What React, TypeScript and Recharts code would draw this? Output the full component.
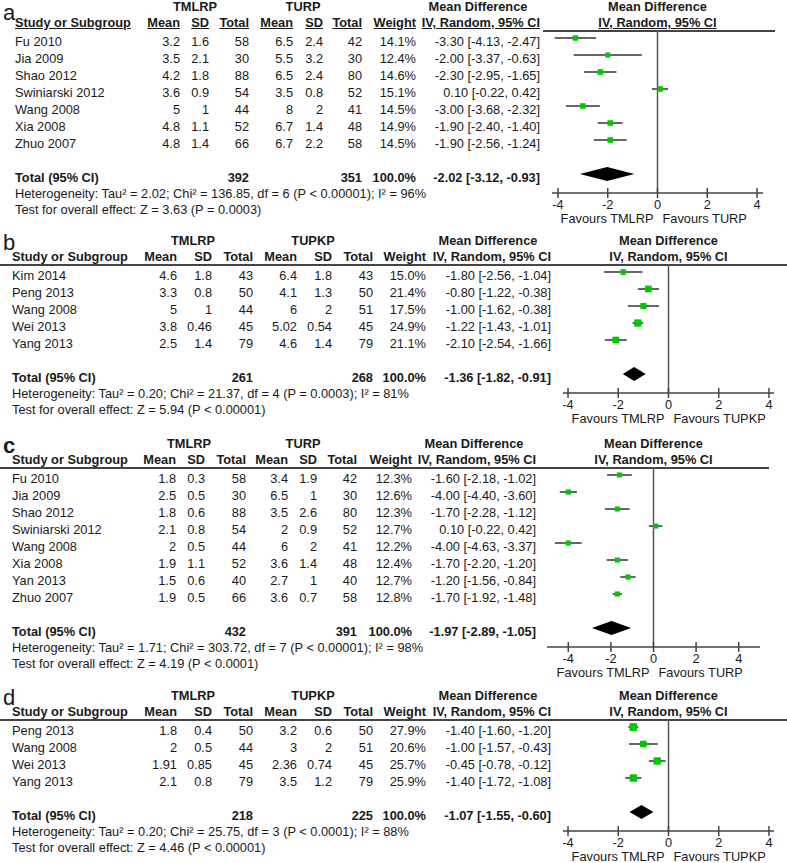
import React from 'react';
import { ScatterChart, Scatter, XAxis, YAxis, ErrorBar, ReferenceLine, ReferenceArea } from 'recharts';

const FONT = '"Liberation Sans", Arial, sans-serif';
const INK = '#1a1a1a';
const GREEN = '#00c800';
const ROW = 17;
const FS = 12.8;

// ---- a: TMLRP vs TURP
const studiesA = ['Fu 2010', 'Jia 2009', 'Shao 2012', 'Swiniarski 2012', 'Wang 2008', 'Xia 2008', 'Zhuo 2007'];
const meanTA = [3.2, 3.5, 4.2, 3.6, 5, 4.8, 4.8];
const sdTA = [1.6, 2.1, 1.8, 0.9, 1, 1.1, 1.4];
const nTA = [58, 30, 88, 54, 44, 52, 66];
const meanCA = [6.5, 5.5, 6.5, 3.5, 8, 6.7, 6.7];
const sdCA = [2.4, 3.2, 2.4, 0.8, 2, 1.4, 2.2];
const nCA = [42, 30, 80, 52, 41, 48, 58];
const weightA = [14.1, 12.4, 14.6, 15.1, 14.5, 14.9, 14.5];
const mdA = [-3.3, -2, -2.3, 0.1, -3, -1.9, -1.9];
const loA = [-4.13, -3.37, -2.95, -0.22, -3.68, -2.4, -2.56];
const hiA = [-2.47, -0.63, -1.65, 0.42, -2.32, -1.4, -1.24];
const totalA = { nT: 392, nC: 351, md: -2.02, lo: -3.12, hi: -0.93 };
const hetA = 'Heterogeneity: Tau\u00b2 = 2.02; Chi\u00b2 = 136.85, df = 6 (P < 0.00001); I\u00b2 = 96%';
const testA = 'Test for overall effect: Z = 3.63 (P = 0.0003)';

// ---- b: TMLRP vs TUPKP
const studiesB = ['Kim 2014', 'Peng 2013', 'Wang 2008', 'Wei 2013', 'Yang 2013'];
const meanTB = [4.6, 3.3, 5, 3.8, 2.5];
const sdTB = [1.8, 0.8, 1, 0.46, 1.4];
const nTB = [43, 50, 44, 45, 79];
const meanCB = [6.4, 4.1, 6, 5.02, 4.6];
const sdCB = [1.8, 1.3, 2, 0.54, 1.4];
const nCB = [43, 50, 51, 45, 79];
const weightB = [15.0, 21.4, 17.5, 24.9, 21.1];
const mdB = [-1.8, -0.8, -1, -1.22, -2.1];
const loB = [-2.56, -1.22, -1.62, -1.43, -2.54];
const hiB = [-1.04, -0.38, -0.38, -1.01, -1.66];
const totalB = { nT: 261, nC: 268, md: -1.36, lo: -1.82, hi: -0.91 };
const hetB = 'Heterogeneity: Tau\u00b2 = 0.20; Chi\u00b2 = 21.37, df = 4 (P = 0.0003); I\u00b2 = 81%';
const testB = 'Test for overall effect: Z = 5.94 (P < 0.00001)';

// ---- c: TMLRP vs TURP
const studiesC = ['Fu 2010', 'Jia 2009', 'Shao 2012', 'Swiniarski 2012', 'Wang 2008', 'Xia 2008', 'Yan 2013', 'Zhuo 2007'];
const meanTC = [1.8, 2.5, 1.8, 2.1, 2, 1.9, 1.5, 1.9];
const sdTC = [0.3, 0.5, 0.6, 0.8, 0.5, 1.1, 0.6, 0.5];
const nTC = [58, 30, 88, 54, 44, 52, 40, 66];
const meanCC = [3.4, 6.5, 3.5, 2, 6, 3.6, 2.7, 3.6];
const sdCC = [1.9, 1, 2.6, 0.9, 2, 1.4, 1, 0.7];
const nCC = [42, 30, 80, 52, 41, 48, 40, 58];
const weightC = [12.3, 12.6, 12.3, 12.7, 12.2, 12.4, 12.7, 12.8];
const mdC = [-1.6, -4, -1.7, 0.1, -4, -1.7, -1.2, -1.7];
const loC = [-2.18, -4.4, -2.28, -0.22, -4.63, -2.2, -1.56, -1.92];
const hiC = [-1.02, -3.6, -1.12, 0.42, -3.37, -1.2, -0.84, -1.48];
const totalC = { nT: 432, nC: 391, md: -1.97, lo: -2.89, hi: -1.05 };
const hetC = 'Heterogeneity: Tau\u00b2 = 1.71; Chi\u00b2 = 303.72, df = 7 (P < 0.00001); I\u00b2 = 98%';
const testC = 'Test for overall effect: Z = 4.19 (P < 0.0001)';

// ---- d: TMLRP vs TUPKP
const studiesD = ['Peng 2013', 'Wang 2008', 'Wei 2013', 'Yang 2013'];
const meanTD = [1.8, 2, 1.91, 2.1];
const sdTD = [0.4, 0.5, 0.85, 0.8];
const nTD = [50, 44, 45, 79];
const meanCD = [3.2, 3, 2.36, 3.5];
const sdCD = [0.6, 2, 0.74, 1.2];
const nCD = [50, 51, 45, 79];
const weightD = [27.9, 20.6, 25.7, 25.9];
const mdD = [-1.4, -1, -0.45, -1.4];
const loD = [-1.6, -1.57, -0.78, -1.72];
const hiD = [-1.2, -0.43, -0.12, -1.08];
const totalD = { nT: 218, nC: 225, md: -1.07, lo: -1.55, hi: -0.6 };
const hetD = 'Heterogeneity: Tau\u00b2 = 0.20; Chi\u00b2 = 25.75, df = 3 (P < 0.0001); I\u00b2 = 88%';
const testD = 'Test for overall effect: Z = 4.46 (P < 0.00001)';

const xTicks = [-4, -2, 0, 2, 4];

const panels = [
  {
    letter: 'a', top: 0, groups: ['TMLRP', 'TURP'],
    studies: studiesA, meanT: meanTA, sdT: sdTA, nT: nTA, meanC: meanCA, sdC: sdCA, nC: nCA,
    weight: weightA, md: mdA, lo: loA, hi: hiA, total: totalA, het: hetA, test: testA,
    // layout
    studyX: 15, cols: [180, 209, 249, 293, 323, 362, 416, 540], grpX: [195, 303], mdHeadX: 478,
    plotLeft: 552, plotWidth: 211, dom: 4.24, lineFrom: 543, lineTo: 775, underline: true,
  },
  {
    letter: 'b', top: 234, groups: ['TMLRP', 'TUPKP'],
    studies: studiesB, meanT: meanTB, sdT: sdTB, nT: nTB, meanC: meanCB, sdC: sdCB, nC: nCB,
    weight: weightB, md: mdB, lo: loB, hi: hiB, total: totalB, het: hetB, test: testB,
    studyX: 12, cols: [177, 212, 253, 297, 332, 373, 426, 551], grpX: [193, 313], mdHeadX: 488,
    plotLeft: 563, plotWidth: 211, dom: 4.2, lineFrom: 0, lineTo: 787, underline: false,
  },
  {
    letter: 'c', top: 437, groups: ['TMLRP', 'TURP'],
    studies: studiesC, meanT: meanTC, sdT: sdTC, nT: nTC, meanC: meanCC, sdC: sdCC, nC: nCC,
    weight: weightC, md: mdC, lo: loC, hi: hiC, total: totalC, het: hetC, test: testC,
    studyX: 12, cols: [176, 205, 246, 288, 317, 357, 412, 536], grpX: [189, 303], mdHeadX: 474,
    plotLeft: 547, plotWidth: 213, dom: 5, lineFrom: 0, lineTo: 769, underline: false,
  },
  {
    letter: 'd', top: 689, groups: ['TMLRP', 'TUPKP'],
    studies: studiesD, meanT: meanTD, sdT: sdTD, nT: nTD, meanC: meanCD, sdC: sdCD, nC: nCD,
    weight: weightD, md: mdD, lo: loD, hi: hiD, total: totalD, het: hetD, test: testD,
    studyX: 12, cols: [177, 212, 253, 297, 332, 373, 426, 551], grpX: [193, 313], mdHeadX: 488,
    plotLeft: 563, plotWidth: 211, dom: 4.2, lineFrom: 0, lineTo: 787, underline: false,
  },
];

const T = ({ x, y, children, align = 'left', bold = false, underline = false, size = FS }: any) => (
  <div
    style={{
      position: 'absolute',
      left: x,
      top: y - 8,
      lineHeight: '16px',
      fontSize: size,
      fontWeight: bold ? 'bold' : 'normal',
      whiteSpace: 'nowrap',
      textDecoration: underline ? 'underline' : undefined,
      transform: align === 'right' ? 'translateX(-100%)' : align === 'center' ? 'translateX(-50%)' : undefined,
    }}
  >
    {children}
  </div>
);

const ci = (m: number, l: number, h: number) => `${m.toFixed(2)} [${l.toFixed(2)}, ${h.toFixed(2)}]`;

const Square = (props: any) => {
  const { cx, cy, payload } = props;
  const s = 1.45 * Math.sqrt(payload.w);
  return <rect x={cx - s / 2} y={cy - s / 2} width={s} height={s} fill={GREEN} />;
};

const Diamond = (props: any) => {
  const { x, y, width, height } = props;
  const pts = [
    [x, y + height / 2],
    [x + width / 2, y],
    [x + width, y + height / 2],
    [x + width / 2, y + height],
  ].map((p) => p.join(',')).join(' ');
  return <polygon points={pts} fill="#000" />;
};

const AxisTick = (props: any) => {
  const { x, y, payload } = props;
  return (
    <g>
      <line x1={x} x2={x} y1={y - 5} y2={y + 5} stroke="#444" strokeWidth={1.5} />
      <text x={x} y={y + 16} textAnchor="middle" fontSize={FS} fontFamily={FONT} fill={INK}>
        {payload.value}
      </text>
    </g>
  );
};

function Plot({ p }: any) {
  const n = p.studies.length;
  const data = p.md.map((m: number, i: number) => ({ md: m, row: i, err: [m - p.lo[i], p.hi[i] - m], w: p.weight[i] }));
  const plotH = 27 + ROW * (n + 1);
  const favours = (lp: any) => {
    const vb = lp.viewBox || {};
    const by = vb.y + vb.height + 30;
    return (
      <g fontSize={FS} fontFamily={FONT} fill={INK}>
        <text x={vb.x - 4} y={by} textAnchor="end">Favours {p.groups[0]}</text>
        <text x={vb.x + 5} y={by} textAnchor="start">Favours {p.groups[1]}</text>
      </g>
    );
  };
  return (
    <div style={{ position: 'absolute', left: p.plotLeft, top: p.top + 30 }}>
      <ScatterChart
        width={p.plotWidth}
        height={plotH + 40}
        margin={{ top: 0, right: 0, bottom: 0, left: 0 }}
        style={{ overflow: 'visible' }}
      >
        <XAxis
          type="number"
          dataKey="md"
          domain={[-p.dom, p.dom]}
          ticks={xTicks}
          interval={0}
          height={40}
          tickSize={0}
          tickMargin={0}
          tickLine={false}
          axisLine={{ stroke: '#444', strokeWidth: 1.5 }}
          tick={<AxisTick />}
          allowDataOverflow
        />
        <YAxis type="number" dataKey="row" domain={[-8 / ROW, n + 1 + 19 / ROW]} reversed hide allowDataOverflow />
        <ReferenceLine x={0} stroke="#555" strokeWidth={1.5} label={{ content: favours }} />
        <ReferenceArea
          x1={p.total.lo}
          x2={p.total.hi}
          y1={n + 1 - 0.41}
          y2={n + 1 + 0.41}
          shape={<Diamond />}
        />
        <Scatter data={data} shape={<Square />} isAnimationActive={false}>
          <ErrorBar dataKey="err" direction="x" width={0} stroke="#666" strokeWidth={2} />
        </Scatter>
      </ScatterChart>
    </div>
  );
}

function Panel({ p }: any) {
  const n = p.studies.length;
  const top = p.top;
  const c = p.cols;
  const plotMid = p.plotLeft + p.plotWidth / 2;
  const totY = top + 42 + ROW * (n + 1);
  const u = p.underline;
  return (
    <>
      <div
        style={{
          position: 'absolute',
          left: 3,
          top: Math.max(0, top - 4),
          fontSize: 22,
          lineHeight: '26px',
          fontWeight: p.letter === 'c' ? 'bold' : 'normal',
        }}
      >
        {p.letter}
      </div>
      <T x={p.grpX[0]} y={top + 7} align="center" bold>{p.groups[0]}</T>
      <T x={p.grpX[1]} y={top + 7} align="center" bold>{p.groups[1]}</T>
      <T x={p.mdHeadX} y={top + 7} align="center" bold>Mean Difference</T>
      <T x={plotMid} y={top + 7} align="center" bold>Mean Difference</T>

      <T x={p.studyX} y={top + 23} bold underline={u}>Study or Subgroup</T>
      <T x={c[0]} y={top + 23} align="right" bold underline={u}>Mean</T>
      <T x={c[1]} y={top + 23} align="right" bold underline={u}>SD</T>
      <T x={c[2]} y={top + 23} align="right" bold underline={u}>Total</T>
      <T x={c[3]} y={top + 23} align="right" bold underline={u}>Mean</T>
      <T x={c[4]} y={top + 23} align="right" bold underline={u}>SD</T>
      <T x={c[5]} y={top + 23} align="right" bold underline={u}>Total</T>
      <T x={c[6]} y={top + 23} align="right" bold underline={u}>Weight</T>
      <T x={c[7]} y={top + 23} align="right" bold underline={u}>IV, Random, 95% CI</T>
      <T x={plotMid} y={top + 23} align="center" bold underline={u}>IV, Random, 95% CI</T>
      <div style={{ position: 'absolute', left: p.lineFrom, top: top + 30, width: p.lineTo - p.lineFrom, height: 1.5, background: '#444' }} />

      {p.studies.map((s: string, i: number) => {
        const y = top + 42 + ROW * i;
        return (
          <React.Fragment key={s}>
            <T x={p.studyX} y={y}>{s}</T>
            <T x={c[0]} y={y} align="right">{String(p.meanT[i])}</T>
            <T x={c[1]} y={y} align="right">{String(p.sdT[i])}</T>
            <T x={c[2]} y={y} align="right">{String(p.nT[i])}</T>
            <T x={c[3]} y={y} align="right">{String(p.meanC[i])}</T>
            <T x={c[4]} y={y} align="right">{String(p.sdC[i])}</T>
            <T x={c[5]} y={y} align="right">{String(p.nC[i])}</T>
            <T x={c[6]} y={y} align="right">{p.weight[i].toFixed(1)}%</T>
            <T x={c[7]} y={y} align="right">{ci(p.md[i], p.lo[i], p.hi[i])}</T>
          </React.Fragment>
        );
      })}

      <T x={p.studyX} y={totY} bold>Total (95% CI)</T>
      <T x={c[2]} y={totY} align="right" bold>{String(p.total.nT)}</T>
      <T x={c[5]} y={totY} align="right" bold>{String(p.total.nC)}</T>
      <T x={c[6]} y={totY} align="right" bold>100.0%</T>
      <T x={c[7]} y={totY} align="right" bold>{ci(p.total.md, p.total.lo, p.total.hi)}</T>
      <T x={p.studyX} y={totY + 16}>{p.het}</T>
      <T x={p.studyX} y={totY + 32}>{p.test}</T>

      <Plot p={p} />
    </>
  );
}

export default function App() {
  return (
    <div
      style={{
        position: 'absolute',
        left: 0,
        top: 0,
        width: 787,
        height: 863,
        background: '#fff',
        overflow: 'hidden',
        fontFamily: FONT,
        color: INK,
      }}
    >
      {panels.map((p) => (
        <Panel key={p.letter} p={p} />
      ))}
    </div>
  );
}
